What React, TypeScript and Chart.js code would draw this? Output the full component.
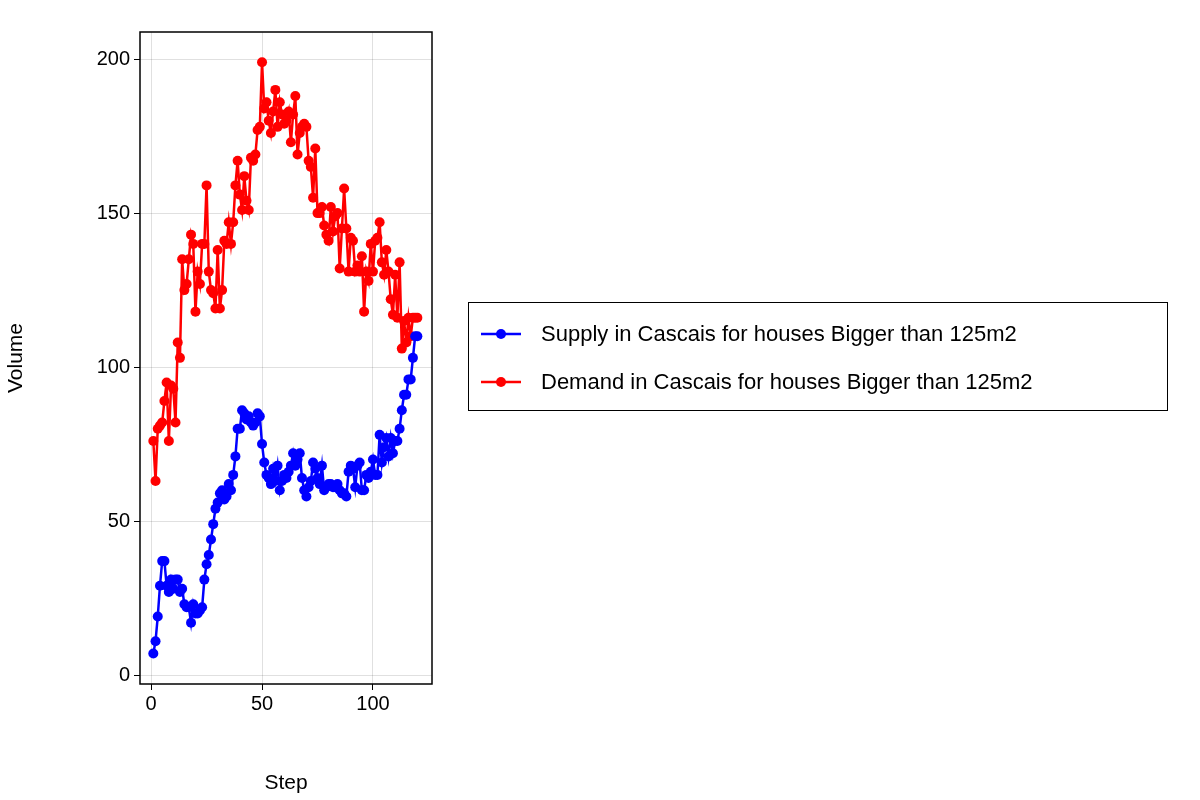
import React, { useEffect, useRef } from "react";
import Chart from "chart.js/auto";

const steps: number[] = Array.from({ length: 120 }, (_, i) => i + 1);

const supply: number[] = [
  7, 11, 19, 29, 37, 37, 29, 27, 31, 28, 31, 31, 27, 28, 23, 22, 22, 17, 23, 20,
  20, 21, 22, 31, 36, 39, 44, 49, 54, 56, 59, 60, 57, 58, 62, 60, 65, 71, 80, 80,
  86, 85, 83, 84, 82, 81, 82, 85, 84, 75, 69, 65, 64, 62, 67, 63, 68, 60, 63, 65,
  64, 66, 68, 72, 68, 70, 72, 64, 60, 58, 61, 63, 69, 67, 64, 62, 68, 60, 61, 62,
  62, 61, 61, 62, 60, 59, 59, 58, 66, 68, 67, 61, 68, 69, 60, 60, 65, 64, 66, 70,
  65, 65, 78, 69, 74, 77, 71, 77, 72, 76, 76, 80, 86, 91, 91, 96, 96, 103, 110, 110,
];

const demand: number[] = [
  76, 63, 80, 81, 82, 89, 95, 76, 94, 93, 82, 108, 103, 135, 125, 127, 135, 143, 140, 118,
  131, 127, 140, 140, 159, 131, 125, 124, 119, 138, 119, 125, 141, 140, 147, 140, 147, 159, 167, 156,
  151, 162, 154, 151, 168, 167, 169, 177, 178, 199, 184, 186, 180, 176, 183, 190, 178, 186, 182, 179,
  180, 183, 173, 182, 188, 169, 176, 178, 179, 178, 167, 165, 155, 171, 150, 150, 152, 146, 143, 141,
  152, 144, 149, 150, 132, 145, 158, 145, 131, 142, 141, 131, 133, 131, 136, 118, 131, 128, 140, 131,
  141, 142, 147, 134, 130, 138, 131, 122, 117, 130, 116, 134, 106, 115, 108, 116, 110, 116, 116, 116,
];

const xTicks = [0, 50, 100];
const yTicks = [0, 50, 100, 150, 200];
const seriesLabels = [
  "Supply in Cascais for houses Bigger than 125m2",
  "Demand in Cascais for houses Bigger than 125m2",
];
const seriesColors = ["#0000ff", "#ff0000"];

const FONT = "'Liberation Sans', Arial, sans-serif";

const App: React.FC = () => {
  const canvasRef = useRef<HTMLCanvasElement>(null);

  useEffect(() => {
    const ctx = canvasRef.current?.getContext("2d");
    if (!ctx) return;

    const frame = {
      id: "frame",
      afterDraw(chart: Chart) {
        const { left, right, top, bottom } = chart.chartArea;
        const c = chart.ctx;
        c.save();
        c.strokeStyle = "#000";
        c.lineWidth = 1.5;
        c.strokeRect(left, top, right - left, bottom - top);
        c.restore();
      },
    };

    const chart = new Chart(ctx, {
      type: "scatter",
      data: {
        datasets: [supply, demand].map((vals, k) => ({
          label: seriesLabels[k],
          data: vals.map((v, i) => ({ x: steps[i], y: v })),
          showLine: true,
          borderColor: seriesColors[k],
          backgroundColor: seriesColors[k],
          borderWidth: 2.5,
          pointRadius: 5,
          pointBorderWidth: 0,
        })),
      },
      options: {
        animation: false,
        responsive: false,
        layout: { padding: { top: 32, right: 768, left: 0, bottom: 0 } },
        plugins: { legend: { display: false }, tooltip: { enabled: false } },
        scales: {
          x: {
            type: "linear",
            min: -5,
            max: 126.6,
            afterBuildTicks: (s: any) => {
              s.ticks = xTicks.map((v) => ({ value: v }));
            },
            afterFit: (s: any) => {
              s.height = 116;
            },
            grid: { color: "rgba(0,0,0,0.12)", lineWidth: 1, drawTicks: true, tickLength: 6, tickColor: "#000" },
            border: { display: false },
            ticks: { color: "#000", font: { family: FONT, size: 20 }, padding: 2 },
            title: { display: true, text: "Step", color: "#000", font: { family: FONT, size: 21 }, padding: { top: 4 } },
          },
          y: {
            type: "linear",
            min: -2.9,
            max: 208.8,
            afterBuildTicks: (s: any) => {
              s.ticks = yTicks.map((v) => ({ value: v }));
            },
            afterFit: (s: any) => {
              s.width = 140;
            },
            grid: { color: "rgba(0,0,0,0.12)", lineWidth: 1, drawTicks: true, tickLength: 6, tickColor: "#000" },
            border: { display: false },
            ticks: { color: "#000", font: { family: FONT, size: 20 }, padding: 4 },
            title: { display: true, text: "Volume", color: "#000", font: { family: FONT, size: 21 }, padding: { bottom: 10 } },
          },
        },
      },
      plugins: [frame],
    });

    return () => chart.destroy();
  }, []);

  return (
    <div style={{ position: "absolute", left: 0, top: 0, width: 1200, height: 800, background: "#fff" }}>
      <canvas ref={canvasRef} width={1200} height={800} style={{ width: 1200, height: 800 }} />
      <div
        style={{
          position: "absolute",
          left: 468,
          top: 302,
          width: 698,
          height: 107,
          border: "1.5px solid #000",
          fontFamily: FONT,
          fontSize: 22,
          color: "#000",
        }}
      >
        {seriesLabels.map((l, k) => (
          <div key={l} style={{ position: "absolute", left: 10, top: 18 + k * 48, display: "flex", alignItems: "center", whiteSpace: "nowrap" }}>
            <svg width={44} height={16} style={{ marginRight: 18 }}>
              <line x1={2} y1={8} x2={42} y2={8} stroke={seriesColors[k]} strokeWidth={2.5} />
              <circle cx={22} cy={8} r={5} fill={seriesColors[k]} />
            </svg>
            <span>{l}</span>
          </div>
        ))}
      </div>
    </div>
  );
};

export default App;
